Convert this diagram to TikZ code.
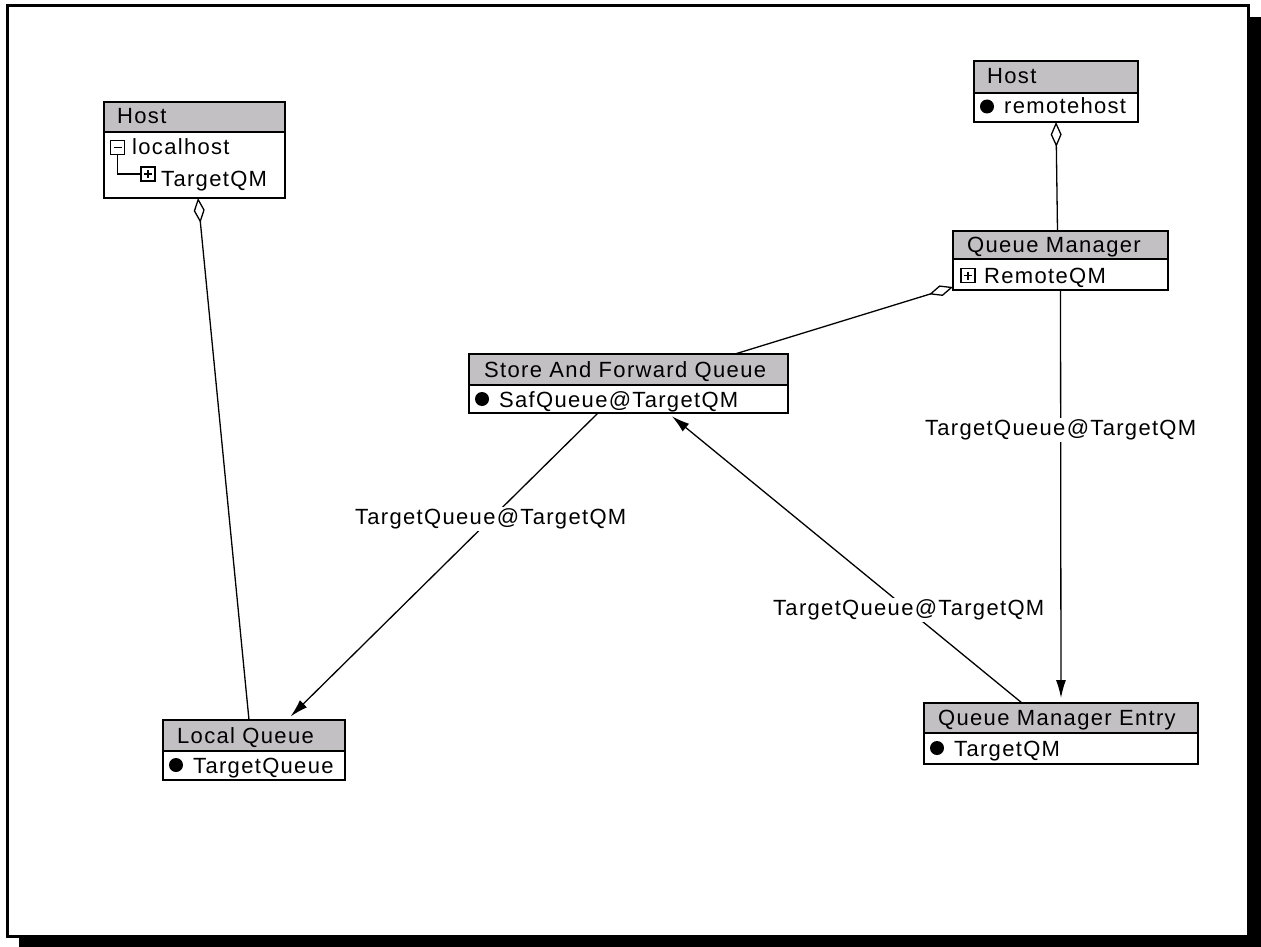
\documentclass[tikz,border=0pt]{standalone}
\usepackage{fontspec}
\setmainfont{Liberation Sans}[LetterSpace=6]
\usetikzlibrary{arrows.meta,calc}
\definecolor{hdrgray}{RGB}{194,192,194}

\tikzset{
  classbox/.style={draw, line width=2pt, fill=white, anchor=north west, inner sep=0pt, outer sep=0pt},
  hdrbox/.style={draw, line width=2pt, fill=hdrgray, anchor=north west, inner sep=0pt, outer sep=0pt},
  txt/.style={anchor=base west, inner sep=0pt},
  expbox/.style={draw, line width=1.4pt, fill=white, minimum size=14pt, inner sep=0pt},
  bullet/.style={circle, fill=black, minimum size=14pt, inner sep=0pt},
  link/.style={line width=1.3pt},
  aggr/.style={link, {Diamond[open,length=25pt,width=11pt,line width=1.3pt]}-},
  assoc/.style={link, -{Latex[length=18pt,width=10pt]}, shorten >=5pt},
  lbl/.style={fill=white, inner sep=1.5pt},
  every node/.style={font=\fontsize{22}{26}\selectfont}
}

\begin{document}
\begin{tikzpicture}[x=1pt, y=-1pt]
\useasboundingbox (0,0) rectangle (1261,947);

% window frame with drop shadow
\fill[black] (19,17) rectangle (1261,947);
\draw[line width=3pt, fill=white] (7.5,5.5) rectangle (1248.5,936.5);

% ---- Host (localhost)
\node[classbox, minimum width=181pt, minimum height=96pt] (hostL) at (104,102) {};
\node[hdrbox, minimum width=181pt, minimum height=30pt] (hostLh) at (104,102) {};
\node[txt] (hostLt) at (117,124) {Host};
\node[expbox] (expA) at (117.5,147.5) {};
\draw[line width=1.4pt] ($(expA.center)+(-4,0)$) -- ($(expA.center)+(4,0)$);
\node[txt] (hostLa) at (132,154) {localhost};
\node[expbox] (expB) at (148,174) {};
\draw[line width=1.4pt] ($(expB.center)+(-4,0)$) -- ($(expB.center)+(4,0)$);
\draw[line width=1.4pt] ($(expB.center)+(0,-4)$) -- ($(expB.center)+(0,4)$);
\draw[line width=1.4pt] (expA.south) |- (expB.west);
\node[txt] (hostLb) at (161,186) {TargetQM};

% ---- Host (remotehost)
\node[classbox, minimum width=164pt, minimum height=61pt] (hostR) at (974,61) {};
\node[hdrbox, minimum width=164pt, minimum height=32pt] (hostRh) at (974,61) {};
\node[txt] (hostRt) at (987,84) {Host};
\node[bullet] (bulR) at (987,106.5) {};
\node[txt] (hostRa) at (1004,114) {remotehost};

% ---- Queue Manager
\node[classbox, minimum width=215pt, minimum height=59pt] (qm) at (953,231) {};
\node[hdrbox, minimum width=215pt, minimum height=28pt] (qmh) at (953,231) {};
\node[txt] (qmt) at (967,252) {Queue Manager};
\node[expbox] (expC) at (968,275.5) {};
\draw[line width=1.4pt] ($(expC.center)+(-4,0)$) -- ($(expC.center)+(4,0)$);
\draw[line width=1.4pt] ($(expC.center)+(0,-4)$) -- ($(expC.center)+(0,4)$);
\node[txt] (qma) at (984,283) {RemoteQM};

% ---- Store And Forward Queue
\node[classbox, minimum width=319pt, minimum height=59pt] (saf) at (469,354) {};
\node[hdrbox, minimum width=319pt, minimum height=31pt] (safh) at (469,354) {};
\node[txt] (saft) at (484,377) {Store And Forward Queue};
\node[bullet] (bulS) at (482,399) {};
\node[txt] (safa) at (499,407) {SafQueue@TargetQM};

% ---- Local Queue
\node[classbox, minimum width=182pt, minimum height=60pt] (lq) at (163,720) {};
\node[hdrbox, minimum width=182pt, minimum height=31pt] (lqh) at (163,720) {};
\node[txt] (lqt) at (177,743) {Local Queue};
\node[bullet] (bulL) at (176,765) {};
\node[txt] (lqa) at (193,773) {TargetQueue};

% ---- Queue Manager Entry
\node[classbox, minimum width=274pt, minimum height=61pt] (qme) at (924,703) {};
\node[hdrbox, minimum width=274pt, minimum height=30pt] (qmeh) at (924,703) {};
\node[txt] (qmet) at (938,725) {Queue Manager Entry};
\node[bullet] (bulE) at (937,748) {};
\node[txt] (qmea) at (954,756) {TargetQM};

% ---- connectors
\draw[aggr] ($(hostL.south)+(3.5,0)$) -- ($(lq.north)+(-5,0)$);
\draw[aggr] (hostR.south) -- ($(qm.north)+(-3,0)$);
\draw[aggr] ($(qm.south west)+(0,-3)$) -- ($(saf.north)+(106.5,0)$);

\draw[assoc] ($(saf.south)+(-30.5,0)$) -- node[lbl, pos=0.345] (l1) {TargetQueue@TargetQM} ($(lq.north)+(33,0)$);
\draw[assoc] ($(qme.north)+(-39,0)$) -- node[lbl, pos=0.32] (l2) {TargetQueue@TargetQM} ($(saf.south)+(39.5,0)$);
\draw[assoc] (qm.south) -- node[lbl, pos=0.339] (l3) {TargetQueue@TargetQM} (qme.north);

\end{tikzpicture}
\end{document}
